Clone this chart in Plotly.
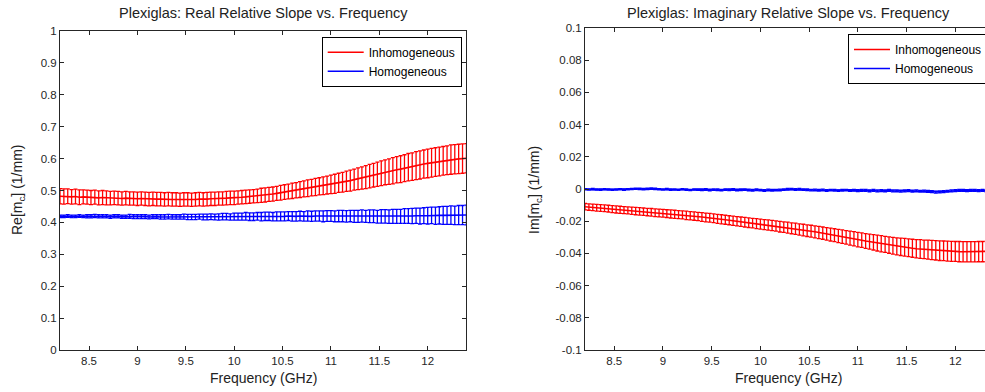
import plotly.graph_objects as go

# ---------------- data ----------------
freq = [8.20, 8.24, 8.28, 8.32, 8.36, 8.40, 8.44, 8.48, 8.52, 8.56,
        8.60, 8.64, 8.68, 8.72, 8.76, 8.80, 8.84, 8.88, 8.92, 8.96,
        9.00, 9.04, 9.08, 9.12, 9.16, 9.20, 9.24, 9.28, 9.32, 9.36,
        9.40, 9.44, 9.48, 9.52, 9.56, 9.60, 9.64, 9.68, 9.72, 9.76,
        9.80, 9.84, 9.88, 9.92, 9.96, 10.00, 10.04, 10.08, 10.12, 10.16,
        10.20, 10.24, 10.28, 10.32, 10.36, 10.40, 10.44, 10.48, 10.52, 10.56,
        10.60, 10.64, 10.68, 10.72, 10.76, 10.80, 10.84, 10.88, 10.92, 10.96,
        11.00, 11.04, 11.08, 11.12, 11.16, 11.20, 11.24, 11.28, 11.32, 11.36,
        11.40, 11.44, 11.48, 11.52, 11.56, 11.60, 11.64, 11.68, 11.72, 11.76,
        11.80, 11.84, 11.88, 11.92, 11.96, 12.00, 12.04, 12.08, 12.12, 12.16,
        12.20, 12.24, 12.28, 12.32, 12.36, 12.40]

re_inh = [0.482, 0.481, 0.482, 0.480, 0.481, 0.479, 0.480, 0.479, 0.478, 0.479,
          0.477, 0.478, 0.477, 0.476, 0.477, 0.476, 0.475, 0.476, 0.475, 0.475,
          0.474, 0.475, 0.474, 0.473, 0.474, 0.473, 0.473, 0.472, 0.473, 0.472,
          0.472, 0.471, 0.472, 0.472, 0.471, 0.472, 0.473, 0.472, 0.473, 0.474,
          0.474, 0.475, 0.475, 0.476, 0.477, 0.477, 0.478, 0.479, 0.480, 0.481,
          0.482, 0.483, 0.485, 0.486, 0.488, 0.489, 0.491, 0.493, 0.495, 0.497,
          0.499, 0.501, 0.503, 0.505, 0.507, 0.509, 0.511, 0.513, 0.515, 0.517,
          0.519, 0.521, 0.524, 0.526, 0.529, 0.531, 0.534, 0.537, 0.539, 0.542,
          0.545, 0.548, 0.551, 0.554, 0.557, 0.559, 0.562, 0.565, 0.567, 0.570,
          0.573, 0.575, 0.578, 0.580, 0.583, 0.585, 0.587, 0.589, 0.591, 0.593,
          0.595, 0.597, 0.598, 0.599, 0.600, 0.601]
re_inh_err = [0.024, 0.024, 0.023, 0.023, 0.023, 0.023, 0.022, 0.022, 0.022, 0.022,
              0.022, 0.022, 0.022, 0.021, 0.021, 0.021, 0.021, 0.021, 0.021, 0.021,
              0.021, 0.021, 0.021, 0.021, 0.021, 0.021, 0.021, 0.021, 0.021, 0.021,
              0.021, 0.021, 0.021, 0.021, 0.021, 0.021, 0.021, 0.021, 0.021, 0.021,
              0.021, 0.021, 0.021, 0.021, 0.021, 0.021, 0.021, 0.021, 0.021, 0.021,
              0.021, 0.021, 0.022, 0.022, 0.022, 0.022, 0.022, 0.023, 0.023, 0.023,
              0.024, 0.024, 0.025, 0.025, 0.026, 0.026, 0.027, 0.027, 0.028, 0.028,
              0.029, 0.030, 0.030, 0.031, 0.032, 0.033, 0.033, 0.034, 0.035, 0.036,
              0.037, 0.037, 0.038, 0.039, 0.039, 0.040, 0.041, 0.041, 0.042, 0.042,
              0.043, 0.043, 0.044, 0.044, 0.044, 0.045, 0.045, 0.045, 0.045, 0.045,
              0.045, 0.046, 0.046, 0.046, 0.046, 0.046]

re_hom = [0.419, 0.419, 0.420, 0.419, 0.419, 0.420, 0.419, 0.419, 0.419, 0.420,
          0.419, 0.419, 0.419, 0.418, 0.419, 0.419, 0.418, 0.418, 0.419, 0.418,
          0.418, 0.418, 0.418, 0.417, 0.418, 0.418, 0.417, 0.417, 0.418, 0.417,
          0.417, 0.417, 0.418, 0.417, 0.417, 0.417, 0.418, 0.417, 0.417, 0.418,
          0.417, 0.417, 0.418, 0.418, 0.417, 0.418, 0.418, 0.418, 0.419, 0.418,
          0.418, 0.419, 0.418, 0.419, 0.419, 0.418, 0.419, 0.419, 0.419, 0.420,
          0.419, 0.419, 0.420, 0.419, 0.420, 0.419, 0.420, 0.420, 0.419, 0.420,
          0.420, 0.419, 0.420, 0.420, 0.419, 0.420, 0.419, 0.419, 0.420, 0.419,
          0.419, 0.419, 0.418, 0.419, 0.419, 0.418, 0.419, 0.419, 0.419, 0.420,
          0.420, 0.420, 0.421, 0.420, 0.421, 0.421, 0.422, 0.421, 0.422, 0.422,
          0.422, 0.423, 0.422, 0.423, 0.423, 0.423]
re_hom_err = [0.004, 0.004, 0.004, 0.004, 0.004, 0.004, 0.004, 0.005, 0.005, 0.005,
              0.005, 0.005, 0.005, 0.005, 0.005, 0.005, 0.005, 0.005, 0.006, 0.006,
              0.006, 0.006, 0.006, 0.006, 0.006, 0.006, 0.007, 0.007, 0.007, 0.007,
              0.007, 0.007, 0.008, 0.008, 0.008, 0.008, 0.008, 0.009, 0.009, 0.009,
              0.009, 0.010, 0.010, 0.010, 0.010, 0.011, 0.011, 0.011, 0.012, 0.012,
              0.012, 0.012, 0.013, 0.013, 0.013, 0.013, 0.014, 0.014, 0.014, 0.014,
              0.015, 0.015, 0.015, 0.015, 0.016, 0.016, 0.016, 0.016, 0.017, 0.017,
              0.017, 0.017, 0.018, 0.018, 0.018, 0.018, 0.019, 0.019, 0.019, 0.019,
              0.020, 0.020, 0.020, 0.021, 0.021, 0.021, 0.022, 0.022, 0.022, 0.023,
              0.023, 0.024, 0.024, 0.025, 0.025, 0.026, 0.026, 0.027, 0.027, 0.028,
              0.028, 0.029, 0.029, 0.030, 0.030, 0.031]

im_inh = [-0.0110, -0.0112, -0.0114, -0.0116, -0.0118, -0.0120, -0.0122, -0.0125, -0.0127, -0.0129,
          -0.0131, -0.0133, -0.0135, -0.0137, -0.0139, -0.0141, -0.0143, -0.0145, -0.0147, -0.0149,
          -0.0151, -0.0153, -0.0155, -0.0157, -0.0159, -0.0161, -0.0164, -0.0166, -0.0168, -0.0171,
          -0.0174, -0.0177, -0.0179, -0.0182, -0.0185, -0.0188, -0.0191, -0.0194, -0.0197, -0.0200,
          -0.0203, -0.0206, -0.0209, -0.0212, -0.0215, -0.0218, -0.0221, -0.0224, -0.0227, -0.0230,
          -0.0234, -0.0237, -0.0240, -0.0244, -0.0247, -0.0251, -0.0255, -0.0259, -0.0262, -0.0266,
          -0.0270, -0.0274, -0.0279, -0.0283, -0.0287, -0.0292, -0.0296, -0.0300, -0.0305, -0.0309,
          -0.0314, -0.0318, -0.0323, -0.0327, -0.0331, -0.0336, -0.0340, -0.0344, -0.0348, -0.0352,
          -0.0356, -0.0359, -0.0362, -0.0365, -0.0368, -0.0371, -0.0373, -0.0375, -0.0377, -0.0379,
          -0.0381, -0.0383, -0.0384, -0.0386, -0.0387, -0.0388, -0.0389, -0.0390, -0.0390, -0.0390,
          -0.0390, -0.0389, -0.0389, -0.0388, -0.0387, -0.0386]
im_inh_err = [0.0020, 0.0020, 0.0020, 0.0021, 0.0021, 0.0021, 0.0021, 0.0022, 0.0022, 0.0022,
              0.0022, 0.0022, 0.0023, 0.0023, 0.0023, 0.0023, 0.0023, 0.0024, 0.0024, 0.0024,
              0.0024, 0.0024, 0.0025, 0.0025, 0.0025, 0.0025, 0.0026, 0.0026, 0.0026, 0.0026,
              0.0027, 0.0027, 0.0027, 0.0027, 0.0028, 0.0028, 0.0028, 0.0028, 0.0029, 0.0029,
              0.0029, 0.0030, 0.0030, 0.0030, 0.0031, 0.0031, 0.0031, 0.0032, 0.0032, 0.0032,
              0.0033, 0.0033, 0.0034, 0.0034, 0.0035, 0.0035, 0.0036, 0.0036, 0.0037, 0.0037,
              0.0038, 0.0038, 0.0039, 0.0040, 0.0040, 0.0041, 0.0042, 0.0042, 0.0043, 0.0044,
              0.0045, 0.0045, 0.0046, 0.0047, 0.0048, 0.0049, 0.0050, 0.0050, 0.0051, 0.0052,
              0.0053, 0.0054, 0.0055, 0.0055, 0.0056, 0.0057, 0.0058, 0.0058, 0.0059, 0.0060,
              0.0060, 0.0061, 0.0061, 0.0062, 0.0062, 0.0062, 0.0063, 0.0063, 0.0063, 0.0063,
              0.0063, 0.0063, 0.0063, 0.0063, 0.0063, 0.0063]

im_hom = [-0.0002, -0.0003, -0.0001, -0.0003, -0.0004, -0.0002, -0.0003, -0.0005, -0.0003, -0.0002,
          -0.0004, -0.0002, 0.0000, 0.0002, 0.0001, -0.0001, 0.0001, 0.0003, 0.0001, -0.0002,
          -0.0003, -0.0001, -0.0004, -0.0003, -0.0005, -0.0002, -0.0004, -0.0006, -0.0003, -0.0004,
          -0.0005, -0.0003, -0.0006, -0.0004, -0.0005, -0.0007, -0.0004, -0.0005, -0.0003, -0.0006,
          -0.0005, -0.0004, -0.0006, -0.0008, -0.0005, -0.0007, -0.0009, -0.0006, -0.0008, -0.0007,
          -0.0006, -0.0004, -0.0002, -0.0001, -0.0003, -0.0002, -0.0004, -0.0005, -0.0007, -0.0006,
          -0.0008, -0.0006, -0.0009, -0.0007, -0.0008, -0.0010, -0.0008, -0.0007, -0.0009, -0.0008,
          -0.0010, -0.0009, -0.0008, -0.0011, -0.0009, -0.0012, -0.0010, -0.0011, -0.0009, -0.0012,
          -0.0011, -0.0013, -0.0012, -0.0010, -0.0013, -0.0012, -0.0014, -0.0013, -0.0015, -0.0017,
          -0.0019, -0.0018, -0.0016, -0.0014, -0.0012, -0.0010, -0.0009, -0.0008, -0.0010, -0.0009,
          -0.0008, -0.0010, -0.0009, -0.0011, -0.0010, -0.0011]
im_hom_err = [0.0004, 0.0004, 0.0004, 0.0004, 0.0004, 0.0004, 0.0004, 0.0004, 0.0004, 0.0004,
              0.0004, 0.0004, 0.0004, 0.0004, 0.0004, 0.0004, 0.0004, 0.0004, 0.0004, 0.0004,
              0.0004, 0.0004, 0.0004, 0.0004, 0.0004, 0.0004, 0.0004, 0.0004, 0.0004, 0.0004,
              0.0005, 0.0005, 0.0005, 0.0005, 0.0005, 0.0005, 0.0005, 0.0005, 0.0005, 0.0005,
              0.0005, 0.0005, 0.0005, 0.0005, 0.0005, 0.0005, 0.0005, 0.0005, 0.0005, 0.0005,
              0.0005, 0.0005, 0.0005, 0.0005, 0.0005, 0.0005, 0.0005, 0.0005, 0.0005, 0.0005,
              0.0005, 0.0005, 0.0005, 0.0005, 0.0005, 0.0005, 0.0005, 0.0005, 0.0005, 0.0005,
              0.0006, 0.0006, 0.0006, 0.0006, 0.0006, 0.0006, 0.0006, 0.0006, 0.0006, 0.0006,
              0.0006, 0.0006, 0.0006, 0.0006, 0.0006, 0.0006, 0.0006, 0.0006, 0.0006, 0.0006,
              0.0006, 0.0006, 0.0006, 0.0006, 0.0006, 0.0006, 0.0006, 0.0006, 0.0006, 0.0006,
              0.0006, 0.0006, 0.0006, 0.0006, 0.0006, 0.0006]

x_ticks = [8.5, 9, 9.5, 10, 10.5, 11, 11.5, 12]
x_ticktext = ["8.5", "9", "9.5", "10", "10.5", "11", "11.5", "12"]
re_ticks = [0, 0.1, 0.2, 0.3, 0.4, 0.5, 0.6, 0.7, 0.8, 0.9, 1]
re_ticktext = ["0", "0.1", "0.2", "0.3", "0.4", "0.5", "0.6", "0.7", "0.8", "0.9", "1"]
im_ticks = [-0.1, -0.08, -0.06, -0.04, -0.02, 0, 0.02, 0.04, 0.06, 0.08, 0.1]
im_ticktext = ["-0.1", "-0.08", "-0.06", "-0.04", "-0.02", "0", "0.02", "0.04", "0.06", "0.08", "0.1"]

series_names = ["Inhomogeneous", "Homogeneous"]
colors = ["#ff0000", "#0000ff"]

title_left = "Plexiglas: Real Relative Slope vs. Frequency"
title_right = "Plexiglas: Imaginary Relative Slope vs. Frequency"
xlabel = "Frequency (GHz)"
ylabel_left = "Re[m<sub>c</sub>] (1/mm)"
ylabel_right = "Im[m<sub>c</sub>] (1/mm)"

# ---------------- figure ----------------
W, H = 985, 392
FONT = "Liberation Sans, Arial, sans-serif"
AX = "#262626"

fig = go.Figure()

def add(x, y, err, name, color, xa, ya, legend):
    fig.add_trace(go.Scatter(
        x=x, y=y, name=name, mode="lines",
        line=dict(color=color, width=1.6),
        error_y=dict(type="data", array=err, visible=True, color=color,
                     thickness=1.3, width=2),
        xaxis=xa, yaxis=ya, legend=legend, hoverinfo="skip"))

add(freq, re_inh, re_inh_err, series_names[0], colors[0], "x", "y", "legend")
add(freq, re_hom, re_hom_err, series_names[1], colors[1], "x", "y", "legend")
add(freq, im_inh, im_inh_err, series_names[0], colors[0], "x2", "y2", "legend2")
add(freq, im_hom, im_hom_err, series_names[1], colors[1], "x2", "y2", "legend2")

px = lambda v: v / W
py = lambda v: (H - v) / H

common_x = dict(showline=True, linecolor=AX, linewidth=1, mirror="ticks",
                ticks="inside", ticklen=4, tickcolor=AX, showgrid=False,
                zeroline=False, tickvals=x_ticks, ticktext=x_ticktext,
                tickfont=dict(family=FONT, size=11.5, color=AX))
common_y = dict(showline=True, linecolor=AX, linewidth=1,
                ticks="inside", ticklen=4, tickcolor=AX, showgrid=False,
                zeroline=False, tickfont=dict(family=FONT, size=11.5, color=AX))

legend_common = dict(bgcolor="white", bordercolor="#000", borderwidth=1,
                     font=dict(family=FONT, size=12, color="#000"),
                     xanchor="left", yanchor="top", itemwidth=36,
                     tracegroupgap=0)

fig.update_layout(
    width=W, height=H,
    margin=dict(l=0, r=0, t=0, b=0, autoexpand=False),
    paper_bgcolor="white", plot_bgcolor="white",
    showlegend=True,
    xaxis=dict(domain=[px(60), px(466.4)], range=[8.2, 12.4], anchor="y", **common_x),
    yaxis=dict(domain=[py(350), py(31)], range=[0, 1], anchor="x", mirror="ticks",
               tickvals=re_ticks, ticktext=re_ticktext, **common_y),
    xaxis2=dict(domain=[px(585), 1.0], range=[8.2, 12.305], anchor="y2", **common_x),
    yaxis2=dict(domain=[py(350), py(28)], range=[-0.1, 0.1], anchor="x2", mirror=False,
                tickvals=im_ticks, ticktext=im_ticktext, **common_y),
    legend=dict(x=px(321.7), y=py(36.7), **legend_common),
    legend2=dict(x=px(848), y=py(34), **legend_common),
)

ann_font = dict(family=FONT, size=14.5, color="#222")
lab_font = dict(family=FONT, size=14, color="#222")
annos = [
    dict(text=title_left, x=px(263), y=py(13), font=ann_font),
    dict(text=title_right, x=px(788.5), y=py(13), font=ann_font),
    dict(text=xlabel, x=px(263), y=py(378), font=lab_font),
    dict(text=xlabel, x=px(788), y=py(378), font=lab_font),
    dict(text=ylabel_left, x=px(18), y=py(190), font=lab_font, textangle=-90),
    dict(text=ylabel_right, x=px(535), y=py(190), font=lab_font, textangle=-90),
]
for a in annos:
    fig.add_annotation(xref="paper", yref="paper", showarrow=False,
                       xanchor="center", yanchor="middle", **a)

fig.write_html("out.html")
